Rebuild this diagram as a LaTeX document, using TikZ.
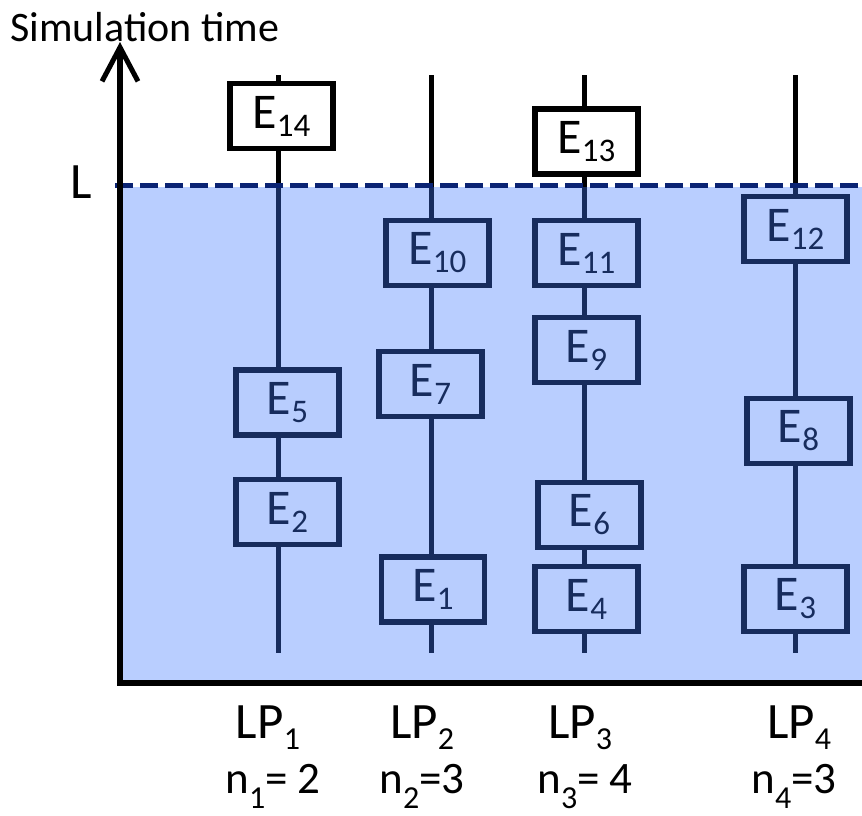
\documentclass[tikz,border=0pt]{standalone}
\usepackage{fontspec}
\setmainfont{Carlito}
\usetikzlibrary{arrows.meta}
\definecolor{ovblue}{RGB}{65,122,254}
\definecolor{dashnavy}{RGB}{10,35,115}
\newcommand\Ev[1]{E\raisebox{-8pt}{\fontsize{33}{33}\selectfont #1}}
\newcommand\LPl[1]{LP\raisebox{-11pt}{\fontsize{32}{32}\selectfont #1}}
\newcommand\nsub[1]{\raisebox{-15pt}{\fontsize{32}{32}\selectfont #1}}
\begin{document}
\begin{tikzpicture}[x=1pt,y=-1pt,
  evbox/.style={draw=black, fill=white, line width=5.5pt, minimum width=103pt, minimum height=65pt, inner sep=0pt, font=\fontsize{50}{50}\selectfont},
  lifeline/.style={draw=black, line width=5pt},
  overlay/.style={fill=ovblue, fill opacity=0.37},
  dashline/.style={draw=dashnavy, line width=5pt, dash pattern=on 18pt off 7pt},
  axisline/.style={draw=black, line width=6pt},
  lbl/.style={inner sep=0pt, font=\fontsize{51}{51}\selectfont},
  nlbl/.style={inner sep=0pt, font=\fontsize{45}{45}\selectfont},
  titlelbl/.style={inner sep=0pt, font=\fontsize{42}{42}\selectfont}]
\useasboundingbox (0,0) rectangle (862,815);
% lifeline end points
\coordinate (t1) at (278,75);  \coordinate (b1) at (278,653);
\coordinate (t2) at (431,75);  \coordinate (b2) at (431,653);
\coordinate (t3) at (584,75);  \coordinate (b3) at (584,653);
\coordinate (t4) at (795,75);  \coordinate (b4) at (795,653);
\draw[lifeline] (t1) -- (b1);
\draw[lifeline] (t2) -- (b2);
\draw[lifeline] (t3) -- (b3);
\draw[lifeline] (t4) -- (b4);
% events
\node[evbox] (e14) at (281.5,116) {\Ev{14}};
\node[evbox] (e13) at (586.5,141.5) {\Ev{13}};
\node[evbox] (e12) at (795.5,229) {\Ev{12}};
\node[evbox] (e11) at (586.5,253) {\Ev{11}};
\node[evbox] (e10) at (437.5,253) {\Ev{10}};
\node[evbox] (e9) at (586.5,350) {\Ev{9}};
\node[evbox] (e8) at (798.5,431) {\Ev{8}};
\node[evbox] (e7) at (430.5,384) {\Ev{7}};
\node[evbox] (e6) at (589.5,515) {\Ev{6}};
\node[evbox] (e5) at (287.5,402.5) {\Ev{5}};
\node[evbox] (e4) at (586.5,599) {\Ev{4}};
\node[evbox] (e3) at (795.5,599) {\Ev{3}};
\node[evbox] (e2) at (287.5,512) {\Ev{2}};
\node[evbox] (e1) at (433,589.5) {\Ev{1}};
% tinted region below L
\fill[overlay] (122,187) rectangle (862,681);
% L line
\coordinate (dl) at (115,185); \coordinate (dr) at (862,185);
\draw[dashline] (dl) -- (dr);
% axes
\coordinate (axtop) at (120,42);
\coordinate (corner) at (120,683);
\coordinate (axright) at (862,683);
\draw[axisline, {Straight Barb[length=34pt,width=36pt,line width=5pt]}-] (axtop) -- (corner) -- (axright);
% labels
\node[titlelbl, anchor=base west] (title) at (10,41) {Simulation time};
\node[lbl, anchor=base west] (Llbl) at (70,198) {L};
\node[lbl, anchor=base] (lp1) at (268,738) {\LPl{1}};
\node[lbl, anchor=base] (lp2) at (422,738) {\LPl{2}};
\node[lbl, anchor=base] (lp3) at (580,738) {\LPl{3}};
\node[lbl, anchor=base] (lp4) at (799,738) {\LPl{4}};
\node[nlbl, anchor=base] (n1) at (273,793) {n\nsub{1}= 2};
\node[nlbl, anchor=base] (n2) at (422,793) {n\nsub{2}=3};
\node[nlbl, anchor=base] (n3) at (585,793) {n\nsub{3}= 4};
\node[nlbl, anchor=base] (n4) at (794,793) {n\nsub{4}=3};
\end{tikzpicture}
\end{document}
